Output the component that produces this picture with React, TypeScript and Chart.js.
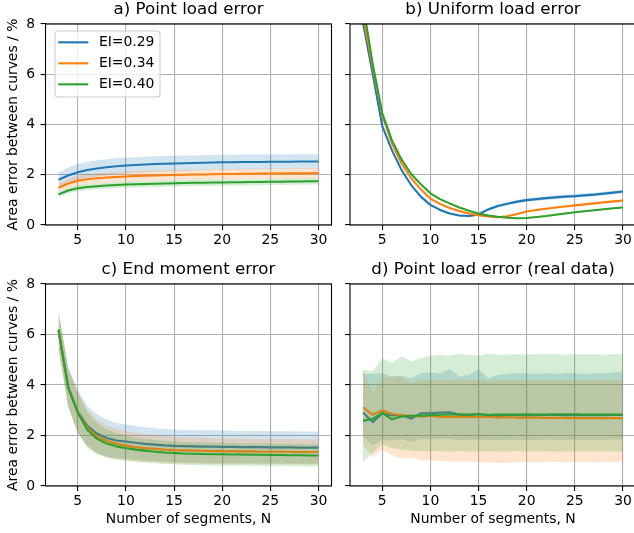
import React, { useEffect, useRef } from "react";
import { Chart, registerables } from "chart.js";

Chart.register(...registerables);

const FONT = "DejaVu Sans";

// ---------- data ----------
const N = [3, 4, 5, 6, 7, 8, 9, 10, 11, 12, 13, 14, 15, 16, 17, 18, 19, 20, 21, 22, 23, 24, 25, 26, 27, 28, 29, 30];
const X_TICKS = [5, 10, 15, 20, 25, 30];
const Y_TICKS = [0, 2, 4, 6, 8];
const SERIES_LABELS = ["EI=0.29", "EI=0.34", "EI=0.40"];
const COLORS = ["#1f77b4", "#ff7f0e", "#2ca02c"];
const BAND_COLORS = ["rgba(31,119,180,0.2)", "rgba(255,127,14,0.2)", "rgba(44,160,44,0.2)"];

const TITLES = ["a) Point load error", "b) Uniform load error", "c) End moment error", "d) Point load error (real data)"];
const Y_TITLE = "Area error between curves / %";
const X_TITLE = "Number of segments, N";

// a) Point load error (mean and half-width of band)
const A_MEAN_029 = [1.80, 1.97, 2.10, 2.19, 2.25, 2.30, 2.34, 2.37, 2.39, 2.41, 2.43, 2.44, 2.45, 2.46, 2.47, 2.48, 2.49, 2.50, 2.50, 2.51, 2.51, 2.51, 2.52, 2.52, 2.52, 2.53, 2.53, 2.53];
const A_SPREAD_029 = [0.28, 0.31, 0.33, 0.33, 0.33, 0.32, 0.32, 0.32, 0.31, 0.31, 0.31, 0.31, 0.31, 0.31, 0.30, 0.30, 0.30, 0.30, 0.30, 0.30, 0.30, 0.30, 0.30, 0.29, 0.29, 0.29, 0.29, 0.29];
const A_MEAN_034 = [1.48, 1.65, 1.76, 1.82, 1.86, 1.89, 1.91, 1.93, 1.95, 1.96, 1.97, 1.98, 1.99, 2.00, 2.01, 2.01, 2.02, 2.03, 2.03, 2.04, 2.04, 2.05, 2.05, 2.05, 2.06, 2.06, 2.06, 2.07];
const A_SPREAD_034 = [0.17, 0.19, 0.20, 0.20, 0.20, 0.20, 0.20, 0.20, 0.20, 0.20, 0.20, 0.20, 0.20, 0.20, 0.20, 0.20, 0.20, 0.20, 0.20, 0.20, 0.20, 0.20, 0.20, 0.20, 0.20, 0.20, 0.20, 0.20];
const A_MEAN_040 = [1.22, 1.37, 1.46, 1.51, 1.54, 1.57, 1.59, 1.61, 1.62, 1.63, 1.64, 1.65, 1.66, 1.67, 1.68, 1.68, 1.69, 1.69, 1.70, 1.70, 1.71, 1.71, 1.72, 1.72, 1.73, 1.73, 1.74, 1.74];
const A_SPREAD_040 = [0.10, 0.11, 0.12, 0.12, 0.12, 0.12, 0.13, 0.13, 0.13, 0.13, 0.13, 0.13, 0.13, 0.13, 0.13, 0.13, 0.13, 0.13, 0.13, 0.13, 0.13, 0.13, 0.13, 0.13, 0.13, 0.13, 0.13, 0.13];

// b) Uniform load error
const B_MEAN_029 = [8.05, 6.03, 3.94, 2.98, 2.19, 1.59, 1.13, 0.80, 0.60, 0.46, 0.38, 0.36, 0.42, 0.62, 0.76, 0.85, 0.93, 0.99, 1.03, 1.07, 1.10, 1.13, 1.15, 1.18, 1.21, 1.25, 1.29, 1.33];
const B_SPREAD_029 = [0.06, 0.06, 0.06, 0.06, 0.06, 0.05, 0.05, 0.05, 0.05, 0.05, 0.05, 0.05, 0.06, 0.07, 0.07, 0.07, 0.07, 0.07, 0.07, 0.07, 0.07, 0.07, 0.07, 0.07, 0.07, 0.07, 0.07, 0.07];
const B_MEAN_034 = [8.32, 6.30, 4.38, 3.25, 2.45, 1.86, 1.42, 1.05, 0.84, 0.68, 0.56, 0.46, 0.39, 0.34, 0.31, 0.35, 0.44, 0.54, 0.60, 0.65, 0.70, 0.74, 0.78, 0.82, 0.86, 0.90, 0.94, 0.97];
const B_SPREAD_034 = [0.04, 0.04, 0.04, 0.04, 0.04, 0.04, 0.04, 0.04, 0.04, 0.04, 0.04, 0.04, 0.04, 0.04, 0.04, 0.04, 0.04, 0.04, 0.04, 0.04, 0.04, 0.04, 0.04, 0.04, 0.04, 0.04, 0.04, 0.04];
const B_MEAN_040 = [8.80, 6.43, 4.44, 3.38, 2.61, 2.03, 1.62, 1.26, 1.03, 0.86, 0.70, 0.57, 0.46, 0.38, 0.33, 0.29, 0.27, 0.28, 0.32, 0.36, 0.41, 0.46, 0.51, 0.55, 0.59, 0.63, 0.67, 0.70];
const B_SPREAD_040 = [0.03, 0.03, 0.03, 0.03, 0.03, 0.03, 0.03, 0.03, 0.03, 0.03, 0.03, 0.03, 0.03, 0.03, 0.03, 0.03, 0.03, 0.03, 0.03, 0.03, 0.03, 0.03, 0.03, 0.03, 0.03, 0.03, 0.03, 0.03];

// c) End moment error
const C_MEAN_029 = [6.19, 3.94, 2.95, 2.38, 2.07, 1.90, 1.80, 1.76, 1.71, 1.67, 1.64, 1.61, 1.59, 1.58, 1.57, 1.56, 1.56, 1.55, 1.55, 1.54, 1.54, 1.54, 1.53, 1.53, 1.53, 1.52, 1.52, 1.52];
const C_SPREAD_029 = [0.75, 0.80, 0.85, 0.80, 0.76, 0.73, 0.70, 0.68, 0.67, 0.66, 0.65, 0.65, 0.65, 0.65, 0.65, 0.65, 0.65, 0.65, 0.64, 0.64, 0.64, 0.64, 0.64, 0.64, 0.64, 0.64, 0.64, 0.64];
const C_MEAN_034 = [6.19, 3.92, 2.92, 2.30, 1.96, 1.78, 1.67, 1.60, 1.54, 1.50, 1.47, 1.44, 1.42, 1.41, 1.40, 1.39, 1.38, 1.38, 1.37, 1.37, 1.37, 1.36, 1.36, 1.36, 1.36, 1.35, 1.35, 1.35];
const C_SPREAD_034 = [0.70, 0.75, 0.80, 0.72, 0.66, 0.62, 0.60, 0.58, 0.56, 0.55, 0.54, 0.53, 0.53, 0.52, 0.52, 0.52, 0.51, 0.51, 0.51, 0.51, 0.50, 0.50, 0.50, 0.50, 0.50, 0.50, 0.50, 0.50];
const C_MEAN_040 = [6.19, 3.90, 2.90, 2.22, 1.87, 1.68, 1.57, 1.50, 1.44, 1.40, 1.36, 1.33, 1.31, 1.29, 1.28, 1.27, 1.26, 1.26, 1.25, 1.25, 1.24, 1.24, 1.23, 1.23, 1.22, 1.22, 1.21, 1.21];
const C_SPREAD_040 = [0.70, 0.75, 0.80, 0.70, 0.62, 0.56, 0.52, 0.50, 0.48, 0.47, 0.46, 0.46, 0.45, 0.45, 0.45, 0.45, 0.45, 0.45, 0.45, 0.44, 0.44, 0.44, 0.44, 0.44, 0.44, 0.44, 0.44, 0.44];

// d) Point load error (real data): mean, lower and upper band edges
const D_MEAN_029 = [2.91, 2.53, 2.88, 2.79, 2.81, 2.67, 2.88, 2.88, 2.91, 2.92, 2.82, 2.80, 2.85, 2.79, 2.77, 2.80, 2.80, 2.79, 2.80, 2.81, 2.81, 2.80, 2.81, 2.80, 2.80, 2.80, 2.81, 2.81];
const D_LO_029 = [1.95, 1.60, 1.85, 1.80, 1.85, 1.75, 1.85, 1.85, 1.87, 1.86, 1.82, 1.83, 1.84, 1.82, 1.81, 1.83, 1.83, 1.82, 1.83, 1.84, 1.83, 1.83, 1.84, 1.83, 1.83, 1.83, 1.84, 1.84];
const D_HI_029 = [4.45, 4.45, 4.47, 4.34, 4.37, 4.27, 4.47, 4.50, 4.47, 4.63, 4.34, 4.40, 4.63, 4.27, 4.40, 4.45, 4.47, 4.47, 4.45, 4.47, 4.45, 4.48, 4.47, 4.45, 4.46, 4.47, 4.50, 4.55];
const D_MEAN_034 = [3.12, 2.82, 2.99, 2.86, 2.80, 2.79, 2.74, 2.78, 2.73, 2.73, 2.74, 2.73, 2.73, 2.73, 2.71, 2.72, 2.71, 2.71, 2.71, 2.70, 2.70, 2.70, 2.69, 2.69, 2.69, 2.69, 2.69, 2.69];
const D_LO_034 = [1.60, 1.15, 1.45, 1.22, 1.08, 1.12, 1.00, 1.02, 0.98, 0.97, 0.96, 0.96, 0.95, 0.94, 0.90, 0.92, 0.94, 0.95, 0.94, 0.95, 0.94, 0.94, 0.95, 0.95, 0.94, 0.95, 0.95, 0.96];
const D_HI_034 = [4.58, 3.74, 4.27, 4.34, 4.34, 4.07, 4.20, 4.20, 4.22, 4.20, 4.22, 4.21, 4.20, 4.18, 4.20, 4.21, 4.20, 4.20, 4.19, 4.20, 4.20, 4.19, 4.20, 4.20, 4.19, 4.20, 4.20, 4.20];
const D_MEAN_040 = [2.58, 2.66, 2.90, 2.64, 2.75, 2.78, 2.78, 2.80, 2.82, 2.83, 2.84, 2.83, 2.84, 2.82, 2.83, 2.83, 2.83, 2.84, 2.83, 2.83, 2.84, 2.84, 2.84, 2.83, 2.83, 2.83, 2.83, 2.83];
const D_LO_040 = [0.95, 1.30, 1.65, 1.50, 1.45, 1.40, 1.38, 1.38, 1.37, 1.37, 1.38, 1.37, 1.37, 1.36, 1.37, 1.37, 1.38, 1.37, 1.37, 1.37, 1.36, 1.37, 1.37, 1.37, 1.37, 1.37, 1.37, 1.37];
const D_HI_040 = [4.60, 4.55, 5.07, 4.87, 5.13, 4.93, 5.07, 5.16, 5.20, 5.16, 5.24, 5.20, 5.16, 5.24, 5.20, 5.21, 5.22, 5.21, 5.22, 5.23, 5.22, 5.21, 5.22, 5.22, 5.22, 5.21, 5.22, 5.22];

// ---------- helpers ----------
type Series = { mean: number[]; lo: number[]; hi: number[] };

const fromSpread = (mean: number[], spread: number[]): Series => ({
  mean,
  lo: mean.map((m, i) => m - spread[i]),
  hi: mean.map((m, i) => m + spread[i]),
});

const PANEL_A: Series[] = [fromSpread(A_MEAN_029, A_SPREAD_029), fromSpread(A_MEAN_034, A_SPREAD_034), fromSpread(A_MEAN_040, A_SPREAD_040)];
const PANEL_B: Series[] = [fromSpread(B_MEAN_029, B_SPREAD_029), fromSpread(B_MEAN_034, B_SPREAD_034), fromSpread(B_MEAN_040, B_SPREAD_040)];
const PANEL_C: Series[] = [fromSpread(C_MEAN_029, C_SPREAD_029), fromSpread(C_MEAN_034, C_SPREAD_034), fromSpread(C_MEAN_040, C_SPREAD_040)];
const PANEL_D: Series[] = [
  { mean: D_MEAN_029, lo: D_LO_029, hi: D_HI_029 },
  { mean: D_MEAN_034, lo: D_LO_034, hi: D_HI_034 },
  { mean: D_MEAN_040, lo: D_LO_040, hi: D_HI_040 },
];

type PanelSpec = {
  series: Series[];
  title: string;
  left: number;
  top: number;
  w: number;
  h: number;
  padRight: number;
  yWidth: number;
  xHeight: number;
  titleTop: number;
  showYLabels: boolean;
  showYTitle: boolean;
  showXTitle: boolean;
  legend: boolean;
};

const framePlugin = {
  id: "mplFrame",
  afterDatasetsDraw(chart: any) {
    const { ctx, chartArea } = chart;
    const { left, top, right, bottom } = chartArea;
    ctx.save();
    ctx.strokeStyle = "#000";
    ctx.lineWidth = 1.1;
    ctx.strokeRect(left, top, right - left, bottom - top);
    ctx.restore();
  },
};

const legendPlugin = {
  id: "mplLegend",
  afterDraw(chart: any) {
    const { ctx, chartArea } = chart;
    const items = chart.data.datasets.filter((d: any) => !String(d.label).startsWith("_"));
    const x0 = chartArea.left + 9.5;
    const y0 = chartArea.top + 7;
    const w = 105;
    const h = 66;
    ctx.save();
    ctx.beginPath();
    if (ctx.roundRect) ctx.roundRect(x0, y0, w, h, 3);
    else ctx.rect(x0, y0, w, h);
    ctx.fillStyle = "rgba(255,255,255,0.8)";
    ctx.fill();
    ctx.strokeStyle = "#cccccc";
    ctx.lineWidth = 1.1;
    ctx.stroke();
    items.forEach((d: any, i: number) => {
      const y = y0 + 11.3 + i * 21;
      ctx.beginPath();
      ctx.strokeStyle = d.borderColor;
      ctx.lineWidth = 2.08;
      ctx.moveTo(x0 + 3.3, y);
      ctx.lineTo(x0 + 33.3, y);
      ctx.stroke();
      ctx.fillStyle = "#000";
      ctx.font = `13.9px "${FONT}"`;
      ctx.textBaseline = "middle";
      ctx.textAlign = "left";
      ctx.fillText(d.label, x0 + 44, y + 0.5);
    });
    ctx.restore();
  },
};

function zeroPad(s: any) {
  s.paddingLeft = 0;
  s.paddingRight = 0;
  s.paddingTop = 0;
  s.paddingBottom = 0;
}

function buildConfig(p: PanelSpec): any {
  const datasets: any[] = [];
  p.series.forEach((s, i) => {
    const order = (3 - i) * 2;
    datasets.push({
      label: "_hi" + i,
      data: N.map((x, k) => ({ x, y: s.hi[k] })),
      borderColor: "rgba(0,0,0,0)",
      borderWidth: 0,
      pointRadius: 0,
      fill: "+1",
      backgroundColor: BAND_COLORS[i],
      order,
    });
    datasets.push({
      label: "_lo" + i,
      data: N.map((x, k) => ({ x, y: s.lo[k] })),
      borderColor: "rgba(0,0,0,0)",
      borderWidth: 0,
      pointRadius: 0,
      fill: false,
      order,
    });
    datasets.push({
      label: SERIES_LABELS[i],
      data: N.map((x, k) => ({ x, y: s.mean[k] })),
      borderColor: COLORS[i],
      backgroundColor: COLORS[i],
      borderWidth: 2.08,
      borderJoinStyle: "round",
      pointRadius: 0,
      fill: false,
      tension: 0,
      order: order - 1,
    });
  });

  const gridOpts = { color: "#b0b0b0", lineWidth: 1.1, tickColor: "#000", tickLength: 4.9, drawTicks: true };
  const tickFont = { family: FONT, size: 13.9 };

  return {
    type: "line",
    data: { datasets },
    plugins: p.legend ? [framePlugin, legendPlugin] : [framePlugin],
    options: {
      responsive: false,
      animation: false,
      events: [],
      layout: { padding: { left: 0, top: 0, right: p.padRight, bottom: 0 }, autoPadding: false },
      plugins: {
        legend: { display: false },
        tooltip: { enabled: false },
        title: {
          display: true,
          text: p.title,
          fullSize: false,
          color: "#000",
          font: { family: FONT, size: 16.7, weight: "normal", lineHeight: 1.2 },
          padding: { top: p.titleTop, bottom: 4 },
        },
      },
      scales: {
        x: {
          type: "linear",
          min: 1.65,
          max: 31.35,
          afterBuildTicks: (s: any) => {
            s.ticks = X_TICKS.map((v) => ({ value: v }));
          },
          afterFit: (s: any) => {
            s.height = p.xHeight;
            zeroPad(s);
          },
          grid: gridOpts,
          border: { display: false },
          ticks: { color: "#000", font: tickFont, padding: 2.5, maxRotation: 0, autoSkip: false },
          title: {
            display: p.showXTitle,
            text: X_TITLE,
            color: "#000",
            font: { family: FONT, size: 13.9, lineHeight: 1.2 },
            padding: { top: 0, bottom: 5.5 },
          },
        },
        y: {
          type: "linear",
          min: 0,
          max: 8,
          afterBuildTicks: (s: any) => {
            s.ticks = Y_TICKS.map((v) => ({ value: v }));
          },
          afterFit: (s: any) => {
            s.width = p.yWidth;
            zeroPad(s);
          },
          grid: gridOpts,
          border: { display: false },
          ticks: { display: p.showYLabels, color: "#000", font: tickFont, padding: 5.5 },
          title: {
            display: p.showYTitle,
            text: Y_TITLE,
            color: "#000",
            font: { family: FONT, size: 13.9, lineHeight: 1.2 },
            padding: { top: 5.2, bottom: 0 },
          },
        },
      },
    },
  };
}

function Panel({ spec }: { spec: PanelSpec }) {
  const ref = useRef<HTMLCanvasElement | null>(null);
  useEffect(() => {
    if (!ref.current) return;
    const chart = new Chart(ref.current, buildConfig(spec));
    return () => chart.destroy();
  }, []);
  return (
    <canvas
      ref={ref}
      width={spec.w}
      height={spec.h}
      style={{ position: "absolute", left: spec.left, top: spec.top, width: spec.w, height: spec.h }}
    />
  );
}

const PANELS: PanelSpec[] = [
  { series: PANEL_A, title: TITLES[0], left: 0, top: 0, w: 335, h: 250, padRight: 3.5, yWidth: 45.5, xHeight: 25, titleTop: 0, showYLabels: true, showYTitle: true, showXTitle: false, legend: true },
  { series: PANEL_B, title: TITLES[1], left: 340, top: 0, w: 296, h: 250, padRight: 0, yWidth: 10, xHeight: 25, titleTop: 0, showYLabels: false, showYTitle: false, showXTitle: false, legend: false },
  { series: PANEL_C, title: TITLES[2], left: 0, top: 250, w: 335, h: 283, padRight: 3.5, yWidth: 45.5, xHeight: 47, titleTop: 10, showYLabels: true, showYTitle: true, showXTitle: true, legend: false },
  { series: PANEL_D, title: TITLES[3], left: 340, top: 250, w: 296, h: 283, padRight: 0, yWidth: 10, xHeight: 47, titleTop: 10, showYLabels: false, showYTitle: false, showXTitle: true, legend: false },
];

export default function App() {
  return (
    <div
      style={{
        position: "fixed",
        left: 0,
        top: 0,
        width: 634,
        height: 533,
        overflow: "hidden",
        background: "#ffffff",
      }}
    >
      {PANELS.map((p, i) => (
        <Panel key={i} spec={p} />
      ))}
    </div>
  );
}
